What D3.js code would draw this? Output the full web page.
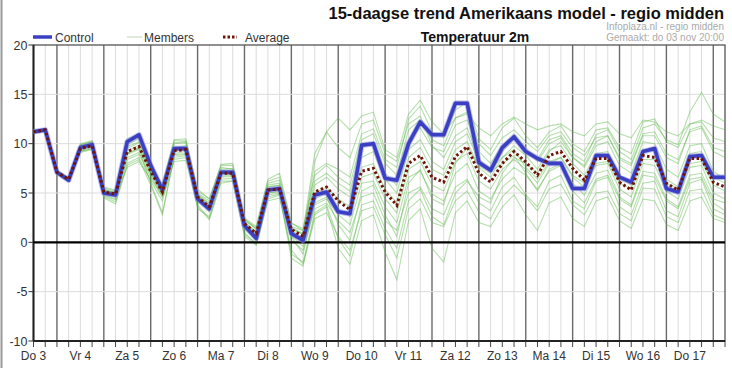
<!DOCTYPE html>
<html><head><meta charset="utf-8">
<script src="https://cdn.jsdelivr.net/npm/d3@7"></script>
<style>
body{margin:0;background:#fff;}
svg{display:block;font-family:"Liberation Sans",Arial,sans-serif;}
</style></head>
<body><svg id="c" width="732" height="368"></svg>
<script>
// 6-hourly steps starting Do 3 12:00
const dayLabels = ["Do 3","Vr 4","Za 5","Zo 6","Ma 7","Di 8","Wo 9","Do 10","Vr 11","Za 12","Zo 13","Ma 14","Di 15","Wo 16","Do 17"];
const yTicks = [-10,-5,0,5,10,15,20];

const control = [11.2,11.4,7.1,6.3,9.6,9.9,5.0,4.8,10.2,10.9,
  7.8,5.3,9.5,9.5,4.4,3.4,7.1,7.1,1.7,0.4,
  5.3,5.45,0.9,0.2,4.8,5.1,3.1,2.9,9.85,10.0,
  6.5,6.3,10.0,12.2,10.9,10.9,14.1,14.1,8.1,7.3,
  9.6,10.7,9.2,8.5,8.0,8.0,5.45,5.45,8.8,8.8,
  6.6,6.1,9.2,9.5,5.45,5.1,8.7,8.8,6.6,6.6];

const average = [11.2,11.4,7.1,6.4,9.5,9.8,5.1,4.9,9.2,9.7,
  7.2,5.1,9.3,9.4,4.6,3.6,7.0,7.0,1.9,0.9,
  5.3,5.4,1.3,0.6,5.1,5.6,4.2,3.3,7.2,7.5,
  5.1,3.75,8.0,8.8,6.6,6.1,8.7,9.7,7.0,6.1,
  8.0,9.2,8.15,6.8,8.8,9.2,7.5,6.3,8.5,8.5,
  6.1,5.3,8.8,8.6,6.0,5.3,8.5,8.5,6.1,5.6];

const member01 = [11.2,11.4,7.2,6.5,9.8,10.1,5.4,5.0,10.5,10.9, 7.5,5.6,10.3,10.3,5.0,4.2,7.8,7.8,2.4,1.3, 6.0,6.3,1.5,0.9,7.2,8.0,7.4,6.6,11.0,11.5, 8.4,7.6,12.5,13.8,11.2,10.6,13.4,14.2,10.5,9.4, 11.6,12.6,10.8,9.6,11.2,11.8,10.0,9.2,11.4,11.6, 9.6,9.0,12.2,12.5,10.2,9.6,12.0,12.2,10.6,10.2];
const member02 = [11.1,11.3,7.0,6.2,9.2,9.5,4.6,4.1,8.0,8.6, 6.2,4.2,8.4,8.6,3.4,2.6,6.4,6.5,1.0,-0.2, 4.2,4.5,-0.8,-2.2,2.4,3.0,0.6,-0.8,3.2,3.6, 0.8,-1.6,3.4,4.4,2.0,1.6,4.2,5.2,3.1,2.4, 4.6,5.8,4.6,3.2,5.4,5.9,3.8,2.8,5.0,5.2, 2.9,2.2,5.5,5.4,2.6,2.0,5.2,5.4,2.8,2.3];
const member03 = [11.3,11.5,7.3,6.6,10.0,10.3,5.6,5.3,9.9,10.5, 7.6,5.9,10.1,10.2,5.4,4.4,7.6,7.4,2.2,1.4, 5.8,6.0,1.6,1.2,6.2,7.0,6.0,5.2,9.6,10.2, 7.0,5.8,10.4,11.6,9.6,9.2,11.9,12.4,9.2,8.0, 9.8,10.9,9.6,8.4,10.4,10.8,9.0,8.2,10.9,11.4, 9.2,8.4,11.6,12.0,10.4,9.9,13.2,15.2,13.0,12.2];
const member04 = [11.0,11.2,6.9,6.2,9.1,9.4,4.9,4.6,8.6,9.1, 6.8,4.6,8.9,9.0,4.2,3.1,6.7,6.8,1.6,0.5, 4.8,5.0,0.7,-0.4,3.8,4.4,2.8,1.8,6.0,6.2, 3.6,2.0,6.6,7.2,4.9,4.2,7.0,8.0,5.2,4.4, 6.4,7.6,6.8,5.4,7.2,7.8,6.0,4.8,7.0,7.3, 4.6,3.8,7.2,7.0,4.4,3.6,6.8,7.0,4.4,4.0];
const member05 = [11.2,11.4,7.2,6.4,9.6,9.9,5.2,5.0,9.5,10.1, 7.3,5.3,9.6,9.8,4.8,3.9,7.2,7.3,2.0,1.1, 5.6,5.8,1.4,0.8,8.2,11.2,12.6,11.4,12.8,13.2, 9.4,8.6,13.0,14.4,12.2,11.0,12.6,13.0,11.6,10.8, 12.0,12.7,12.0,11.4,11.8,12.0,11.2,10.8,12.0,12.2, 11.0,10.6,12.4,12.2,11.2,10.8,12.0,12.4,11.8,11.4];
const member06 = [11.1,11.3,7.0,6.3,9.4,9.7,4.8,4.4,8.9,9.4, 6.0,3.0,8.6,8.8,3.8,2.4,6.2,6.2,0.6,-0.3, 4.4,4.8,-1.6,-2.4,2.8,3.6,-0.6,-2.2,2.2,2.8, -1.0,-3.8,2.2,3.4,-0.6,-2.0,3.0,4.2,2.0,1.6, 3.6,4.8,2.8,1.2,4.0,4.6,2.4,1.6,4.2,4.6, 2.2,1.4,4.4,4.2,1.8,1.2,4.2,4.6,2.4,2.0];
const member07 = [11.2,11.4,7.1,6.4,9.7,10.0,5.2,4.9,9.3,9.8, 7.2,5.2,9.5,9.6,4.7,3.7,7.1,7.1,1.9,0.8, 5.4,5.5,1.2,0.4,5.0,5.6,4.4,3.6,7.6,8.0, 5.4,4.0,8.6,9.6,7.4,6.8,9.4,10.2,7.6,6.6, 8.6,9.8,8.8,7.4,9.4,9.8,8.0,6.8,9.0,9.2, 6.6,5.8,9.4,9.2,6.4,5.6,9.0,9.2,6.6,6.0];
const member08 = [11.3,11.5,7.2,6.5,9.9,10.2,5.3,5.1,9.0,9.5, 7.0,5.0,9.2,9.4,4.6,3.4,6.9,6.9,1.8,0.6, 5.2,5.3,0.6,-1.2,4.0,4.6,1.8,0.2,5.2,5.8, 2.8,0.6,6.0,7.4,4.4,3.8,8.0,9.6,7.8,7.0, 9.2,10.4,9.4,8.2,10.0,10.6,8.6,7.6,9.8,10.2, 7.8,7.0,10.2,10.0,7.4,6.6,9.8,10.0,7.2,6.4];
const member09 = [11.2,11.4,7.1,6.3,9.3,9.6,5.0,4.7,7.6,8.2, 6.4,4.6,8.2,8.3,4.3,3.2,6.6,6.7,1.4,0.2, 5.0,5.2,0.2,-0.8,3.4,4.0,2.2,1.0,4.6,5.0, 2.2,1.2,5.0,5.6,3.4,2.8,5.6,6.4,4.0,3.2, 5.6,6.6,4.8,3.6,6.2,6.8,4.2,3.4,6.2,6.6, 3.6,2.8,6.0,6.2,3.2,2.6,6.0,6.4,3.4,2.8];
const member10 = [11.1,11.3,7.1,6.4,9.8,10.1,5.3,5.0,9.7,10.2, 7.4,5.4,10.0,10.1,4.9,4.0,7.4,7.5,2.3,1.5, 6.2,6.6,1.9,1.4,6.8,7.8,6.6,5.8,10.4,11.0, 8.0,6.8,11.4,12.4,10.4,9.8,12.6,13.2,10.0,8.8, 10.6,11.4,10.2,9.2,10.8,11.2,9.6,8.8,10.6,10.8, 8.4,7.8,10.8,10.8,8.6,8.0,11.4,11.8,9.6,9.2];
const member11 = [11.2,11.4,7.0,6.3,9.5,9.8,4.7,4.3,8.4,8.9, 6.6,4.8,9.0,9.2,4.4,3.4,6.8,6.9,1.7,0.7, 5.0,5.1,0.9,0.0,4.4,5.0,3.4,2.6,6.6,7.0, 4.4,3.0,7.4,8.2,5.8,5.2,8.2,9.0,6.2,5.4, 7.4,8.4,7.4,6.0,8.0,8.6,6.6,5.6,7.8,8.0, 5.4,4.6,8.0,7.8,5.2,4.4,7.6,7.8,5.0,4.4];
const member12 = [11.3,11.5,7.2,6.5,9.9,10.2,5.5,5.2,10.1,10.6, 7.6,5.8,10.4,10.5,5.2,4.4,7.9,8.0,2.5,1.6, 6.4,7.0,2.0,1.2,9.0,11.2,9.6,8.6,12.0,12.4, 9.0,8.2,12.0,12.8,9.8,8.6,10.8,11.6,8.4,7.4, 8.6,9.4,7.6,6.4,8.2,8.6,6.8,6.0,8.0,8.2, 6.0,5.4,8.4,8.4,6.0,5.4,8.0,8.2,5.8,5.2];
const member13 = [11.1,11.3,6.9,6.2,9.2,9.5,4.5,3.9,7.8,8.4, 5.8,2.8,8.8,8.9,3.6,2.3,6.0,6.2,0.8,-0.1, 4.6,4.9,-1.2,-2.0,3.0,3.8,0.4,-1.4,3.8,4.2, 1.4,-0.6,4.2,5.4,2.6,1.8,5.0,6.2,4.6,4.0, 7.0,8.6,8.0,7.0,9.2,10.2,8.6,7.8,10.2,10.8, 8.6,8.0,11.0,11.2,9.0,8.4,11.2,11.6,9.2,8.6];
const member14 = [11.2,11.4,7.1,6.4,9.6,9.9,5.0,4.7,9.0,9.6, 7.0,5.0,9.6,9.7,4.8,3.8,7.3,7.2,2.1,1.0, 5.6,5.8,1.4,0.8,5.8,6.6,5.4,4.6,8.6,9.2, 6.4,5.0,9.4,10.4,8.2,7.4,10.2,11.0,8.2,7.2, 8.0,8.8,7.0,5.2,7.4,8.0,5.2,4.0,6.4,6.8, 4.4,3.6,6.8,6.6,4.2,3.4,6.4,6.6,4.0,3.2];
const members = [member01,member02,member03,member04,member05,member06,member07,member08,member09,member10,member11,member12,member13,member14];

const svg = d3.select("#c");
const W = 732, H = 368;
const x = d3.scaleLinear().domain([0, 354]).range([33.5, 725]); // hours since Do 3 12:00
const y = d3.scaleLinear().domain([-10, 20]).range([341, 45]);
const hourOf = i => i * 6;

// left frame edge
svg.append("line").attr("x1",1.5).attr("x2",1.5).attr("y1",0).attr("y2",H).attr("stroke","#999").attr("stroke-width",2);

// vertical grid every 6h
const gridHours = d3.range(6, 354, 6);
svg.append("g").selectAll("line").data(gridHours).join("line")
  .attr("x1", d=>x(d)).attr("x2", d=>x(d)).attr("y1", y(20)).attr("y2", y(-10))
  .attr("stroke", d => (d-12)%24===0 ? "#6a6a6a" : "#dcdcdc")
  .attr("stroke-width", d => (d-12)%24===0 ? 1.4 : 1);

// horizontal grid
svg.append("g").selectAll("line").data(yTicks.filter(v=>v!==0 && v!==20 && v!==-10)).join("line")
  .attr("x1", x(0)).attr("x2", x(354)).attr("y1", d=>y(d)).attr("y2", d=>y(d))
  .attr("stroke","#dcdcdc").attr("stroke-width",1);

// bottom ticks
svg.append("g").selectAll("line").data(d3.range(0, 355, 6)).join("line")
  .attr("x1", d=>x(d)).attr("x2", d=>x(d)).attr("y1", y(-10)).attr("y2", y(-10)+6)
  .attr("stroke","#444").attr("stroke-width",1);

// frame
svg.append("rect").attr("x", x(0)).attr("y", y(20)).attr("width", x(354)-x(0)).attr("height", y(-10)-y(20))
  .attr("fill","none").attr("stroke","#555").attr("stroke-width",1.3);
svg.append("line").attr("x1",x(0)).attr("x2",x(0)).attr("y1",y(20)).attr("y2",y(-10)).attr("stroke","#222").attr("stroke-width",2);
svg.append("line").attr("x1",x(0)).attr("x2",x(354)).attr("y1",y(-10)).attr("y2",y(-10)).attr("stroke","#222").attr("stroke-width",2);

// y ticks and labels
const yg = svg.append("g");
yg.selectAll("line").data(yTicks).join("line")
  .attr("x1", x(0)-5).attr("x2", x(0)).attr("y1", d=>y(d)).attr("y2", d=>y(d)).attr("stroke","#333");
yg.selectAll("text").data(yTicks).join("text")
  .attr("x", x(0)-6).attr("y", d=>y(d)+4.5).attr("text-anchor","end")
  .attr("font-size", 12.5).attr("fill","#333").text(d=>d);

// x labels
svg.append("g").selectAll("text").data(dayLabels).join("text")
  .attr("x", (d,i)=>x(i*24)).attr("y", 360).attr("text-anchor","middle")
  .attr("font-size", 12).attr("fill","#333").text(d=>d);

const line = d3.line().x((d,i)=>x(hourOf(i))).y(d=>y(d));

// members
svg.append("g").selectAll("path").data(members).join("path")
  .attr("d", line).attr("fill","none").attr("stroke","#5cb846").attr("stroke-opacity",0.45).attr("stroke-width",1.1);

// zero line
svg.append("line").attr("x1",x(0)).attr("x2",x(354)).attr("y1",y(0)).attr("y2",y(0)).attr("stroke","#000").attr("stroke-width",2.2);

// control
svg.append("path").attr("d", line(control)).attr("fill","none").attr("stroke","#8c8ee0").attr("stroke-opacity",0.6).attr("stroke-width",5.5).attr("stroke-linejoin","round");
svg.append("path").attr("d", line(control)).attr("fill","none").attr("stroke","#3b3fc4").attr("stroke-width",3.6).attr("stroke-linejoin","round");
// average
svg.append("path").attr("d", line(average)).attr("fill","none").attr("stroke","#6e1508").attr("stroke-width",3).attr("stroke-dasharray","2.5,2.5");

// legend
const lg = svg.append("g").attr("font-size",12).attr("fill","#333");
lg.append("line").attr("x1",33).attr("x2",52).attr("y1",37).attr("y2",37).attr("stroke","#3b3fc4").attr("stroke-width",3.5);
lg.append("text").attr("x",55).attr("y",41.5).text("Control");
lg.append("line").attr("x1",127).attr("x2",142).attr("y1",37).attr("y2",37).attr("stroke","#c9dcc4").attr("stroke-width",1.2);
lg.append("text").attr("x",144).attr("y",41.5).text("Members");
lg.append("line").attr("x1",223).attr("x2",237).attr("y1",37).attr("y2",37).attr("stroke","#6e1508").attr("stroke-width",3).attr("stroke-dasharray","2.5,2");
lg.append("text").attr("x",245).attr("y",41.5).text("Average");

// titles
svg.append("text").attr("x",724).attr("y",19).attr("text-anchor","end").attr("font-size",16.5).attr("font-weight","bold").attr("fill","#111")
  .text("15-daagse trend Amerikaans model - regio midden");
svg.append("text").attr("x",475).attr("y",42).attr("text-anchor","middle").attr("font-size",14).attr("font-weight","bold").attr("fill","#111")
  .text("Temperatuur 2m");
svg.append("text").attr("x",724).attr("y",30).attr("text-anchor","end").attr("font-size",10).attr("fill","#aaa").text("Infoplaza.nl - regio midden");
svg.append("text").attr("x",724).attr("y",41).attr("text-anchor","end").attr("font-size",10).attr("fill","#aaa").text("Gemaakt: do 03 nov 20:00");
</script></body></html>
